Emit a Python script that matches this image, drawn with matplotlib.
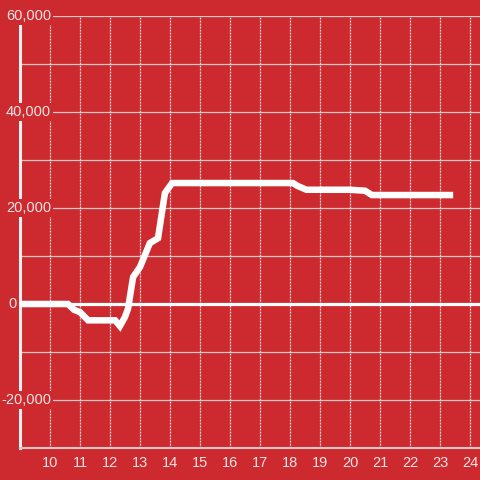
import numpy as np
import matplotlib.pyplot as plt

# time (hour) vs value
hours = [9.0, 10.6, 10.8, 11.0, 11.27, 12.17, 12.33, 12.5, 12.6, 12.77, 13.0, 13.33,
         13.6, 13.83, 14.07, 18.1, 18.25, 18.55, 20.0, 20.5, 20.73, 23.33]
values = [0, 0, -1200, -1700, -3400, -3400, -4600, -2700, -1000, 5600, 7700, 12700,
          13700, 23100, 25200, 25200, 24600, 23800, 23800, 23600, 22700, 22700]

y_ticks = [-20000, 0, 20000, 40000, 60000]
x_ticks = list(range(10, 25))

bg = '#cd2a2f'
txt = '#f4e4e4'
grid = '#d2c6c6'

plt.rcParams['font.family'] = ['Liberation Sans', 'DejaVu Sans']

fig = plt.figure(figsize=(4.8, 4.8), dpi=100, facecolor=bg)
ax = fig.add_axes([20/480, 32/480, 460/480, 432/480])
ax.set_facecolor(bg)

ax.set_xlim(9, 9 + 460/30)
ax.set_ylim(-30000, 60000)

# grid
for v in range(-20000, 60001, 10000):
    ax.axhline(v, color=grid, lw=0.9, zorder=1)
for x in x_ticks:
    ax.axvline(x, color='#e6dcdc', lw=0.9, ls=(0, (1.5, 0.9)), zorder=1)

ax.axhline(0, color='white', lw=2.3, zorder=2)
ax.plot(hours, values, color='white', lw=4.7, solid_joinstyle='miter',
        solid_capstyle='projecting', zorder=6)

for s in ['top', 'right']:
    ax.spines[s].set_visible(False)
ax.spines['left'].set_color('#f4f0f0')
ax.spines['left'].set_linewidth(2.2)
ax.spines['left'].set_zorder(2.5)
ax.spines['bottom'].set_color(grid)
ax.spines['bottom'].set_linewidth(1.5)

ax.set_yticks([])
ax.set_xticks(x_ticks)
ax.set_xticklabels([str(x) for x in x_ticks])
ax.tick_params(axis='x', length=0, pad=6, labelsize=10.5, colors=txt)

for v in y_ticks:
    if v == 0:
        ax.annotate('0', xy=(0, v), xycoords=('axes fraction', 'data'),
                    xytext=(-3, 0), textcoords='offset pixels', ha='right', va='center',
                    fontsize=10.5, color=txt, zorder=5, annotation_clip=False)
        continue
    ax.annotate(f'{v:,}', xy=(0, v), xycoords=('axes fraction', 'data'),
                xytext=(31, 0), textcoords='offset pixels', ha='right', va='center',
                fontsize=10.5, color=txt, zorder=5,
                bbox=dict(facecolor=bg, edgecolor='none', pad=1.5))

fig.savefig('out.png', dpi=100, facecolor=bg)
